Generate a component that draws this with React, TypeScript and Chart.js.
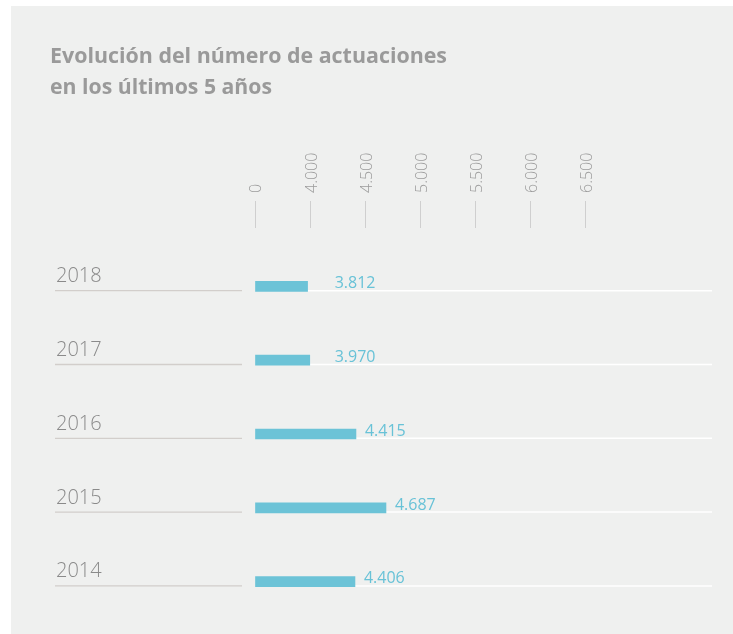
import React, { useEffect, useRef } from "react";
import { Chart, registerables } from "chart.js";

Chart.register(...registerables);

const titleLines = ["Evolución del número de actuaciones", "en los últimos 5 años"];
const years = ["2018", "2017", "2016", "2015", "2014"];
const values = [3812, 3970, 4415, 4687, 4406];
const tickValues = [0, 4000, 4500, 5000, 5500, 6000, 6500];

const FONT = "'Open Sans', 'DejaVu Sans', sans-serif";

function fmt(v: number): string {
  return String(v).replace(/\B(?=(\d{3})+(?!\d))/g, ".");
}

// piecewise mapping of a value onto the (broken) axis, whose ticks are evenly spaced
function toAxis(v: number): number {
  for (let i = 0; i < tickValues.length - 1; i++) {
    const a = tickValues[i];
    const b = tickValues[i + 1];
    if (v <= b) return i + (v - a) / (b - a);
  }
  const n = tickValues.length - 1;
  return n + (v - tickValues[n]) / (tickValues[n] - tickValues[n - 1]);
}

const decorPlugin = {
  id: "decor",
  beforeDatasetsDraw(chart: any) {
    const ctx = chart.ctx;
    const area = chart.chartArea;
    const meta = chart.getDatasetMeta(0);
    ctx.save();
    meta.data.forEach((bar: any, i: number) => {
      const lineY = bar.y + 4.3;
      // white baseline right of the bar
      ctx.strokeStyle = "#ffffff";
      ctx.lineWidth = 1.5;
      ctx.beginPath();
      ctx.moveTo(bar.x, lineY);
      ctx.lineTo(area.right, lineY);
      ctx.stroke();
      // gray line under year label
      ctx.strokeStyle = "#d2cecb";
      ctx.lineWidth = 1.3;
      ctx.beginPath();
      ctx.moveTo(44, lineY);
      ctx.lineTo(231, lineY);
      ctx.stroke();
      // year label
      ctx.fillStyle = "#8a8a8a";
      ctx.font = `300 20px ${FONT}`;
      ctx.textAlign = "left";
      ctx.textBaseline = "alphabetic";
      ctx.fillText(years[i], 45, lineY - 8.5);
    });
    ctx.restore();
  },
  afterDatasetsDraw(chart: any) {
    const ctx = chart.ctx;
    const meta = chart.getDatasetMeta(0);
    const xs = chart.scales.x;
    const minX = xs.getPixelForValue(1) + 24.5;
    ctx.save();
    meta.data.forEach((bar: any, i: number) => {
      const lineY = bar.y + 4.3;
      ctx.fillStyle = "#68c2d7";
      ctx.font = `400 16px ${FONT}`;
      ctx.textAlign = "left";
      ctx.textBaseline = "alphabetic";
      ctx.fillText(fmt(values[i]), Math.max(bar.x + 9, minX), lineY - 2.5);
    });
    // title
    ctx.fillStyle = "#9a9a9a";
    ctx.font = `700 22px ${FONT}`;
    ctx.fillText(titleLines[0], 39, 56.5, 397);
    ctx.fillText(titleLines[1], 39, 87.5, 222);
    ctx.restore();
  },
};

export default function App() {
  const ref = useRef<HTMLCanvasElement>(null);

  useEffect(() => {
    if (!ref.current) return;
    const chart = new Chart(ref.current, {
      type: "bar",
      data: {
        datasets: [
          {
            data: values.map((v, i) => ({ x: toAxis(v), y: i })),
            backgroundColor: "#6cc3d7",
            borderWidth: 0,
            barThickness: 10,
          },
        ],
      },
      options: {
        indexAxis: "y",
        responsive: false,
        animation: false,
        devicePixelRatio: 1,
        layout: { padding: { left: 244, right: 21, top: 0, bottom: 34 } },
        plugins: { legend: { display: false }, tooltip: { enabled: false }, title: { display: false } },
        scales: {
          x: {
            type: "linear",
            position: "top",
            min: 0,
            max: 8.284,
            offset: false,
            afterBuildTicks: (s: any) => {
              s.ticks = tickValues.map((_, i) => ({ value: i }));
            },
            afterFit: (s: any) => {
              s.height = 222;
            },
            ticks: {
              autoSkip: false,
              minRotation: 90,
              maxRotation: 90,
              padding: 8,
              labelOffset: 21,
              color: "#9c9c9c",
              font: { family: FONT, size: 16, weight: "300" as any },
              callback: (v: any) => fmt(tickValues[Number(v)]),
            },
            grid: {
              drawOnChartArea: false,
              drawTicks: true,
              tickLength: 27,
              tickColor: "#cfcfcf",
              tickWidth: 1,
            },
            border: { display: false },
          },
          y: {
            type: "linear",
            reverse: true,
            offset: false,
            min: -0.791,
            max: 4.249,
            display: false,
          },
        },
      } as any,
      plugins: [decorPlugin],
    });
    return () => chart.destroy();
  }, []);

  return (
    <div style={{ position: "absolute", left: 0, top: 0, width: 733, height: 634, background: "#ffffff" }}>
      <div style={{ position: "absolute", left: 11, top: 6, width: 722, height: 628, background: "#eff0ef" }}>
        <canvas ref={ref} width={722} height={628} style={{ display: "block" }} />
      </div>
    </div>
  );
}
